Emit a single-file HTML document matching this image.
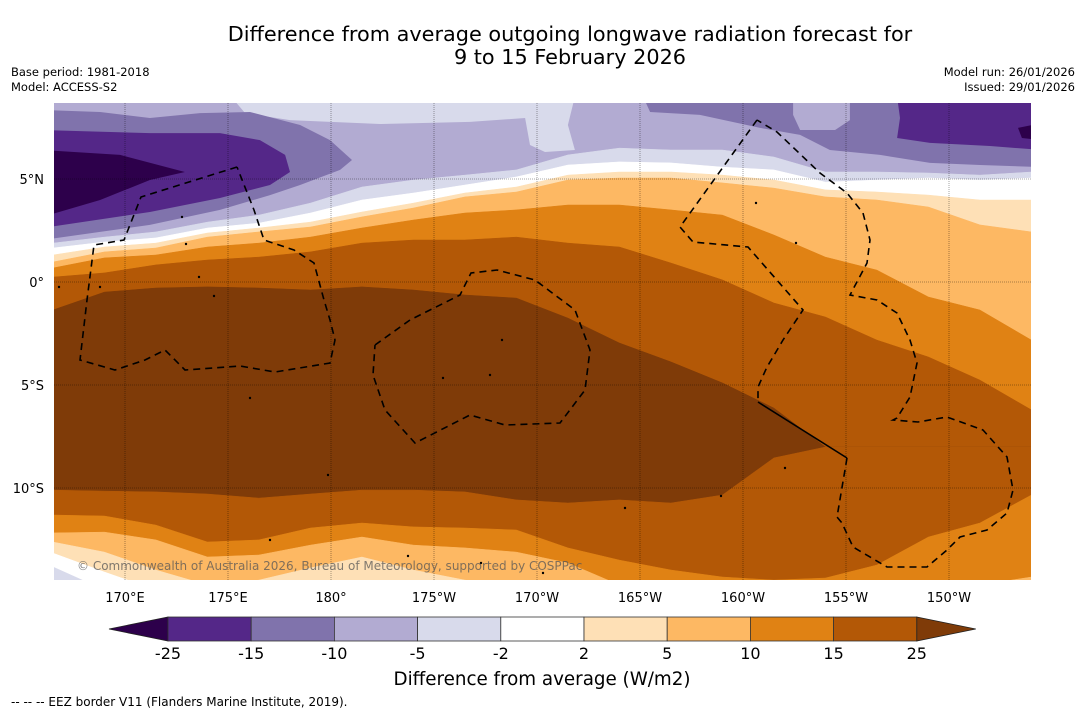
<!DOCTYPE html>
<html><head><meta charset="utf-8"><style>
html,body{margin:0;padding:0;background:#fff;}
svg{display:block;font-family:"DejaVu Sans","Liberation Sans",sans-serif;}
</style></head><body>
<svg id="chart" width="1085" height="713" viewBox="0 0 1085 713" xmlns="http://www.w3.org/2000/svg">
<defs><clipPath id="mapclip"><rect x="54" y="103" width="977" height="477"/></clipPath></defs>
<text x="570" y="41" font-size="20.8" text-anchor="middle">Difference from average outgoing longwave radiation forecast for</text>
<text x="570" y="64" font-size="20.8" text-anchor="middle">9 to 15 February 2026</text>
<text x="11" y="76" font-size="11.5">Base period: 1981-2018</text>
<text x="11" y="91" font-size="11.5">Model: ACCESS-S2</text>
<text x="1075" y="76" font-size="11.5" text-anchor="end">Model run: 26/01/2026</text>
<text x="1075" y="91" font-size="11.5" text-anchor="end">Issued: 29/01/2026</text>
<g id="map" clip-path="url(#mapclip)"></g>
<g id="overlay"></g>
<g id="axes"></g>
<g id="cbar"></g>
<text x="542" y="685" font-size="18.3" text-anchor="middle">Difference from average (W/m2)</text>
<text x="11" y="706" font-size="12">--  --  -- EEZ border V11 (Flanders Marine Institute, 2019).</text>
</svg>
<script>
// ---- data ----
const lons = [166.5,169,171.5,174,176.5,179,181.5,184,186.5,189,191.5,194,196.5,199,201.5,204,206.5,209,211.5,214];
const latD5Top   = [1.89,2.18,2.43,2.91,3.25,3.83,4.61,4.95,5.19,5.44,6.17,6.50,6.41,6.41,6.07,5.34,5.34,5.29,5.19,5.34];
const latWhiteTop= [1.65,1.94,2.14,2.62,2.86,3.35,3.98,4.32,4.71,5.10,5.68,5.83,5.78,5.58,5.44,4.85,4.95,5.05,4.95,5.05];
const latP2Top   = [1.31,1.70,1.89,2.38,2.62,2.91,3.40,3.83,4.32,4.61,5.19,5.34,5.34,5.19,4.95,4.47,4.37,4.22,3.98,3.98];
const latP5Top   = [0.97,1.46,1.65,2.18,2.43,2.67,3.16,3.59,4.13,4.37,4.95,5.05,5.05,4.81,4.56,4.13,3.98,3.64,2.77,2.43];
const latP10Top  = [0.68,1.17,1.31,1.70,1.89,2.18,2.62,3.01,3.35,3.50,3.74,3.74,3.50,3.25,2.28,1.21,0.58,-0.73,-1.36,-2.82];
const latP15Top  = [0.24,0.44,0.83,1.07,1.21,1.46,1.89,2.04,2.04,2.18,1.89,1.70,0.92,0.10,-1.02,-1.70,-2.82,-3.64,-4.76,-6.21];
const latP25Top  = [-1.36,-0.49,-0.29,-0.24,-0.29,-0.39,-0.24,-0.39,-0.63,-0.78,-1.75,-2.96,-3.88,-4.90,-6.12,-8.01,-8.01,-8.01,-8.01,-8.01];
const latP25Bot  = [-10.10,-10.15,-10.19,-10.29,-10.49,-10.29,-10.10,-10.10,-10.19,-10.58,-10.73,-10.58,-10.73,-10.34,-8.54,-8.01,-8.01,-8.01,-8.01,-8.01];
const latP15Bot  = [-11.31,-11.36,-11.80,-12.62,-12.52,-11.94,-11.70,-11.89,-11.94,-12.04,-12.91,-13.50,-13.98,-14.32,-14.47,-14.37,-13.74,-12.38,-11.70,-10.34];
const latP10Bot  = [-12.18,-12.14,-12.52,-13.35,-13.25,-12.77,-12.38,-12.77,-12.91,-13.11,-13.64,-14.71,-15.19,-15.44,-15.44,-15.44,-15.19,-14.71,-14.71,-14.32];
const latP5Bot   = [-12.62,-13.11,-13.98,-14.71,-14.47,-13.88,-13.35,-13.98,-14.47,-14.71,-15.19,-15.44,-15.44,-15.44,-15.44,-15.44,-15.44,-15.44,-15.44,-15.44];
const latP2Bot   = [-13.16,-14.08,-14.95,-15.44,-15.44,-15.44,-15.44,-15.44,-15.44,-15.44,-15.44,-15.44,-15.44,-15.44,-15.44,-15.44,-15.44,-15.44,-15.44,-15.44];
const latWhiteBot= [-13.83,-14.95,-15.44,-15.44,-15.44,-15.44,-15.44,-15.44,-15.44,-15.44,-15.44,-15.44,-15.44,-15.44,-15.44,-15.44,-15.44,-15.44,-15.44,-15.44];
// purple blobs: [lon,lat] polygons
const blobTopLight = [[175.15,9],[175.83,8.20],[178.01,7.86],[182.38,7.67],[186.75,7.77],[189.42,7.96],[189.66,6.65],[190.39,6.31],[191.84,6.41],[191.50,7.62],[191.84,9]];
const blobLeftM10 = [[166,8.35],[168.79,8.25],[171.21,7.96],[173.64,8.20],[176.07,8.25],[178.50,7.62],[179.95,6.89],[181.02,5.92],[180.44,5.44],[178.50,4.71],[177.04,4.22],[174.61,3.50],[171.21,2.77],[168.79,2.43],[166,2.04]];
const blobLeftM15 = [[166,7.38],[171.21,7.23],[174.61,7.23],[176.55,6.89],[177.77,6.17],[178.01,5.34],[177.04,4.71],[174.61,4.08],[171.21,3.40],[166,2.62]];
const blobLeftM25 = [[166,6.41],[169.76,6.17],[172.91,5.34],[171.21,4.95],[168.79,3.98],[166,3.16]];
const blobRightM10 = [[195.15,9],[214.5,9],[214.5,5.58],[211.50,5.68],[209.08,5.78],[206.65,6.17],[204.22,6.41],[202.77,7.14],[200.83,7.48],[197.91,8.11],[195.49,8.25]];
const blobRightM5 = [[202.43,9],[205.19,9],[205.19,7.86],[204.47,7.38],[202.77,7.38],[202.43,8.11]];
const blobRightM15 = [[207.48,9],[214.5,9],[214.5,6.41],[211.99,6.60],[209.08,6.75],[207.48,6.99],[207.62,7.96]];
const blobRightM25 = [[213.35,7.48],[214.5,7.72],[214.5,6.89],[213.54,6.99]];
const cbLevels = ['-25','-15','-10','-5','-2','2','5','10','15','25'];
const cbColors = ['#542788','#8073ac','#b2abd2','#d8daeb','#ffffff','#fee0b6','#fdb863','#e08214','#b35806'];
const lonTicks = [170,175,180,185,190,195,200,205,210];
const lonTickLabels = ['170°E','175°E','180°','175°W','170°W','165°W','160°W','155°W','150°W'];
const latTicks = [5,0,-5,-10];
const latTickLabels = ['5°N','0°','5°S','10°S'];

// ---- axes ----
const X = lon => 125 + (lon - 170) * 20.6;
const Y = lat => 282 - lat * 20.6;
const NS = 'http://www.w3.org/2000/svg';
const map = document.getElementById('map');
function mk(tag, attrs, parent){const e=document.createElementNS(NS,tag);for(const k in attrs)e.setAttribute(k,attrs[k]);parent.appendChild(e);return e;}

const bg = mk('rect',{x:54,y:103,width:977,height:477,fill:'#b2abd2'},map);



function blob(pts, color, name){
  const p = mk('polygon',{points: pts.map(q=>X(q[0]).toFixed(1)+','+Y(q[1]).toFixed(1)).join(' '), fill:color},map);
  
  
}
blob(blobTopLight,'#d8daeb','contour-top-light');
blob(blobLeftM10,'#8073ac','contour-left-minus10');
blob(blobLeftM15,'#542788','contour-left-minus15');
blob(blobLeftM25,'#2d004b','contour-left-minus25');
blob(blobRightM10,'#8073ac','contour-right-minus10');
blob(blobRightM5,'#b2abd2','contour-right-minus5');
blob(blobRightM15,'#542788','contour-right-minus15');
blob(blobRightM25,'#2d004b','contour-right-minus25');

function bandDown(lats, color, name){
  let pts = lons.map((l,i)=>X(l).toFixed(1)+','+Y(lats[i]).toFixed(1));
  pts.push(X(lons[lons.length-1]).toFixed(1)+',620', X(lons[0]).toFixed(1)+',620');
  const p = mk('polygon',{points:pts.join(' '), fill:color, stroke:color, 'stroke-width':0.5},map);
  
  
}
bandDown(latD5Top,'#d8daeb','band-minus5-north');
bandDown(latWhiteTop,'#ffffff','band-neutral-north');
bandDown(latP2Top,'#fee0b6','band-plus2-north');
bandDown(latP5Top,'#fdb863','band-plus5-north');
bandDown(latP10Top,'#e08214','band-plus10-north');
bandDown(latP15Top,'#b35806','band-plus15-north');
bandDown(latP25Top,'#7f3b08','band-plus25');
bandDown(latP25Bot,'#b35806','band-plus15-south');
bandDown(latP15Bot,'#e08214','band-plus10-south');
bandDown(latP10Bot,'#fdb863','band-plus5-south');
bandDown(latP5Bot,'#fee0b6','band-plus2-south');
bandDown(latP2Bot,'#ffffff','band-neutral-south');
bandDown(latWhiteBot,'#d8daeb','band-minus5-south');

// gridlines
lonTicks.forEach(l=>{
  const g = mk('line',{x1:X(l),x2:X(l),y1:103,y2:580,stroke:'#000','stroke-opacity':0.45,'stroke-width':0.8,'stroke-dasharray':'1,1'},map);
  
  
});
latTicks.forEach(l=>{
  const g = mk('line',{x1:54,x2:1031,y1:Y(l),y2:Y(l),stroke:'#000','stroke-opacity':0.45,'stroke-width':0.8,'stroke-dasharray':'1,1'},map);
  
  
});

// EEZ borders (map overlay geometry)
const ov = document.getElementById('overlay');
const eez = [
 "237,167 141,197 124,240 94,245 87,300 80,360 115,370 145,360 165,350 185,370 240,366 275,372 330,363 335,340 330,320 324,300 314,263 294,250 264,240 254,210 237,167",
 "375,345 410,320 460,295 471,273 497,270 535,280 575,310 590,350 585,390 560,423 505,425 470,415 415,443 385,410 373,375 375,345",
 "757,120 680,227 693,242 748,247 803,310 783,340 773,357 767,367 758,387 758,402",
 "847,458 837,517 842,523 853,547 887,567 927,567 947,550 960,537 987,530 1007,513 1013,490 1007,457 983,430 947,417 918,422 893,420 897,418 910,397 917,363 910,340 897,313 877,300 850,295 867,263 870,240 863,213 847,193 820,173 777,132 757,120"
];
eez.forEach(pts=>{
  const e = mk('polyline',{points:pts,fill:'none',stroke:'#000','stroke-width':1.6,'stroke-dasharray':'7,5'},ov);
  
  
});
const solid = mk('polyline',{points:'758,402 847,458',fill:'none',stroke:'#000','stroke-width':1.6},ov);


[[182,217],[186,244],[199,277],[214,296],[250,398],[443,378],[490,375],[502,340],[756,203],[796,243],[785,468],[721,496],[625,508],[328,475],[270,540],[408,556],[481,563],[543,573],[59,287],[100,287]].forEach(p=>{
  const d = mk('circle',{cx:p[0],cy:p[1],r:1.2,fill:'#000'},ov);
  
  
});
const cp = mk('text',{x:77,y:570,'font-size':12,fill:'#555','fill-opacity':0.75},ov);
cp.textContent = '© Commonwealth of Australia 2026, Bureau of Meteorology, supported by COSPPac';



// axis labels
const ax = document.getElementById('axes');
lonTicks.forEach((l,i)=>{
  const t = mk('text',{x:X(l),y:602,'font-size':13,'text-anchor':'middle'},ax);
  t.textContent = lonTickLabels[i];
  
  
});
latTicks.forEach((l,i)=>{
  const t = mk('text',{x:44,y:Y(l)+5,'font-size':13,'text-anchor':'end'},ax);
  t.textContent = latTickLabels[i];
  
  
});

// colorbar
const cb = document.getElementById('cbar');
const cbX0 = 168, cbW = 83.2, cbY = 617, cbH = 24;
const lt = mk('polygon',{points:`109,${cbY+cbH/2} ${cbX0},${cbY} ${cbX0},${cbY+cbH}`,fill:'#2d004b',stroke:'#222','stroke-width':0.8},cb);


cbColors.forEach((c,i)=>{
  const r = mk('rect',{x:cbX0+i*cbW,y:cbY,width:cbW,height:cbH,fill:c,stroke:'#333','stroke-width':0.8},cb);
  
  
});
const xe = cbX0 + cbColors.length*cbW;
const rt = mk('polygon',{points:`${xe},${cbY} ${xe+59},${cbY+cbH/2} ${xe},${cbY+cbH}`,fill:'#7f3b08',stroke:'#222','stroke-width':0.8},cb);


cbLevels.forEach((v,i)=>{
  const t = mk('text',{x:cbX0+i*cbW,y:659,'font-size':16,'text-anchor':'middle'},cb);
  t.textContent = v;
  
  
});
</script>
</body></html>
